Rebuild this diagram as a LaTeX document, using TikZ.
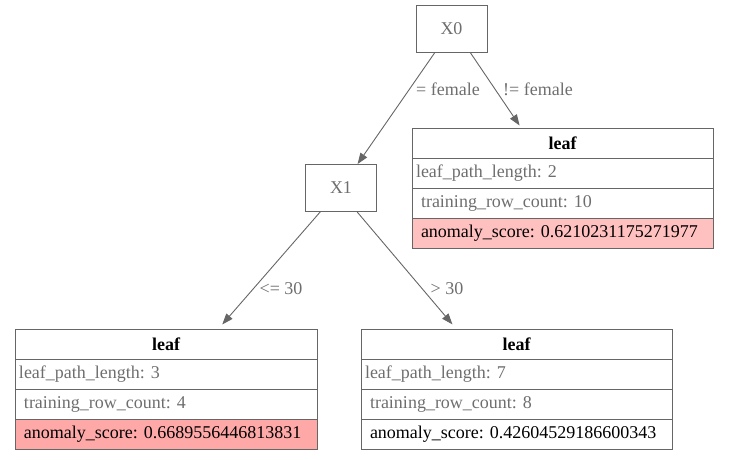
\documentclass[tikz,border=0pt]{standalone}
\usepackage{fontspec}
\setmainfont{Liberation Serif}
\usetikzlibrary{positioning,arrows.meta}

\definecolor{edgegray}{RGB}{102,102,102}
\definecolor{labelgray}{RGB}{110,110,110}
\definecolor{scorepink}{RGB}{255,192,192}
\definecolor{scorered}{RGB}{255,168,168}

\frenchspacing

\begin{document}
\begin{tikzpicture}[
  x=1pt, y=-1pt,
  font=\fontsize{18}{22}\selectfont,
  split/.style={draw=edgegray, line width=0.9pt, minimum width=71pt, minimum height=47pt, text=labelgray},
  cell/.style={draw=edgegray, line width=0.9pt, outer sep=0pt, minimum height=30pt, inner xsep=4pt, inner ysep=0pt, align=left, text=labelgray},
  head/.style={cell, align=center, text=black, font=\fontsize{18}{22}\selectfont\bfseries},
  score/.style={cell, text=black},
  branch/.style={draw=edgegray, line width=0.9pt, -{Triangle[length=11pt,width=8pt]}},
  cond/.style={text=labelgray}
]
  \useasboundingbox (0,0) rectangle (729,460);

  % Split nodes
  \node[split] (X0) at (451.5,28.5) {X0};
  \node[split] (X1) at (341,188) {X1};

  % Leaf: != female
  \node[head, text width=293pt, anchor=north west] (leafAhead) at (412,128) {leaf};
  \node[cell, text width=293pt, below=0pt of leafAhead] (leafAlen) {leaf\_path\_length:~2};
  \node[cell, text width=293pt, below=0pt of leafAlen] (leafAcount) {\hspace*{5pt}training\_row\_count:~10};
  \node[score, fill=scorepink, text width=293pt, below=0pt of leafAcount] (leafAscore) {\hspace*{5pt}anomaly\_score:~0.6210231175271977};

  % Leaf: <= 30
  \node[head, text width=294pt, anchor=north west] (leafBhead) at (15,329) {leaf};
  \node[cell, text width=294pt, below=0pt of leafBhead] (leafBlen) {leaf\_path\_length:~3};
  \node[cell, text width=294pt, below=0pt of leafBlen] (leafBcount) {\hspace*{5pt}training\_row\_count:~4};
  \node[score, fill=scorered, text width=294pt, below=0pt of leafBcount] (leafBscore) {\hspace*{5pt}anomaly\_score:~0.6689556446813831};

  % Leaf: > 30
  \node[head, text width=303pt, anchor=north west] (leafChead) at (361,329) {leaf};
  \node[cell, text width=303pt, below=0pt of leafChead] (leafClen) {leaf\_path\_length:~7};
  \node[cell, text width=303pt, below=0pt of leafClen] (leafCcount) {\hspace*{5pt}training\_row\_count:~8};
  \node[score, text width=303pt, below=0pt of leafCcount] (leafCscore) {\hspace*{5pt}anomaly\_score:~0.42604529186600343};

  % Branches
  \draw[branch] (X0) -- (X1);
  \draw[branch, shorten >=3pt] (X0.-52) -- (leafAhead.160);
  \draw[branch, shorten >=6pt] (X1.-131) -- (leafBhead.16);
  \draw[branch, shorten >=6pt] (X1.-56) -- (leafChead.166);

  % Branch conditions
  \node[cond] (condA) at (448,89) {= female};
  \node[cond] (condB) at (538,89) {!= female};
  \node[cond] (condC) at (281,289) {<= 30};
  \node[cond] (condD) at (447,289) {> 30};

\end{tikzpicture}
\end{document}
